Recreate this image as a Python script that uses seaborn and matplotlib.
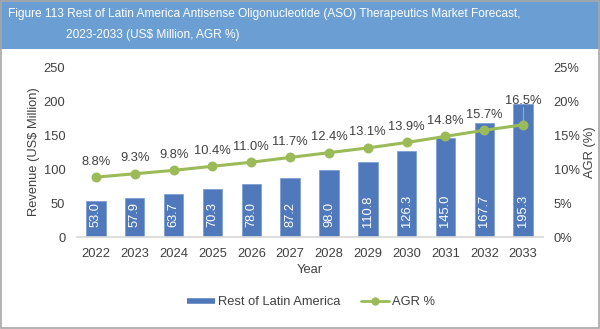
import matplotlib
matplotlib.use("Agg")
import matplotlib.pyplot as plt
import seaborn as sns
import pandas as pd
from matplotlib.patches import Rectangle
from matplotlib.lines import Line2D

years = ["2022", "2023", "2024", "2025", "2026", "2027", "2028", "2029", "2030", "2031", "2032", "2033"]
revenue = [53.0, 57.9, 63.7, 70.3, 78.0, 87.2, 98.0, 110.8, 126.3, 145.0, 167.7, 195.3]
agr = [8.8, 9.3, 9.8, 10.4, 11.0, 11.7, 12.4, 13.1, 13.9, 14.8, 15.7, 16.5]
left_ticks = [0, 50, 100, 150, 200, 250]
right_ticks = [0, 5, 10, 15, 20, 25]

sns.set_theme(style="white")
plt.rcParams['font.family'] = ['Liberation Sans', 'DejaVu Sans']

BAR = "#5079BC"
GREEN = "#9BBB59"
TXT = "#404040"
FS = 9.3

df = pd.DataFrame({"Year": years, "Revenue": revenue, "AGR": agr})

fig = plt.figure(figsize=(6, 3.29), dpi=100)
W, H = 600, 329

# banner
fig.patches.append(Rectangle((0, 1 - 49 / H), 1, 49 / H, transform=fig.transFigure,
                             facecolor="#6B9FD3", edgecolor="none", zorder=0))
# border
fig.patches.append(Rectangle((0.5 / W, 1 / H), 1 - 2 / W, 1 - 2 / H, transform=fig.transFigure,
                             facecolor="none", edgecolor="#A6A6A6", lw=1.2, zorder=1))

fig.text(8 / W, 1 - 14 / H, "Figure 113 Rest of Latin America Antisense Oligonucleotide (ASO) Therapeutics Market Forecast,",
         color="white", fontsize=8.6, va="center", ha="left")
fig.text(66 / W, 1 - 35 / H, "2023-2033 (US$ Million, AGR %)",
         color="white", fontsize=8.6, va="center", ha="left")

ax = fig.add_axes([76.5 / W, (H - 237) / H, (542.6 - 76.5) / W, 170 / H])
sns.barplot(data=df, x="Year", y="Revenue", color=BAR, width=0.5, ax=ax,
            saturation=1, edgecolor="#7FA0D4", linewidth=0.6, zorder=2)
ax.set_ylim(0, 250)
ax.set_yticks(left_ticks)
ax.set_yticklabels([str(t) for t in left_ticks])
ax.set_xlim(-0.5, len(years) - 0.5)
for i, v in enumerate(revenue):
    ax.text(i, 15, f"{v:.1f}", rotation=90, ha="center", va="bottom",
            color="white", fontsize=FS, zorder=5)

ax2 = ax.twinx()
sns.pointplot(data=df, x="Year", y="AGR", color=GREEN, ax=ax2, markers="o",
              markersize=5.5, linewidth=2.2, zorder=4)
ax2.set_ylim(0, 25)
ax2.set_yticks(right_ticks)
ax2.set_yticklabels([f"{t}%" for t in right_ticks])
ax2.set_xlim(-0.5, len(years) - 0.5)
for i, v in enumerate(agr):
    if i == len(agr) - 1:
        ax2.plot([i, i], [v, v + 2.6], color="#A6A6A6", lw=0.8, zorder=3)
        ax2.text(i, v + 3.5, f"{v:.1f}%", ha="center", va="center", color=TXT, fontsize=FS)
    else:
        ax2.text(i, v + 2.3, f"{v:.1f}%", ha="center", va="center", color=TXT, fontsize=FS)

for a in (ax, ax2):
    for s in ("top", "left", "right"):
        a.spines[s].set_visible(False)
    a.spines["bottom"].set_color("#D9D9D9")
    a.tick_params(length=0, colors=TXT, labelsize=FS)
ax2.spines["bottom"].set_visible(False)
ax.tick_params(axis="x", pad=8)
ax.tick_params(axis="y", pad=8)
ax2.tick_params(axis="y", pad=8)

ax.set_xlabel("Year", color=TXT, fontsize=FS, labelpad=3)
ax.set_ylabel("Revenue (US$ Million)", color=TXT, fontsize=FS)
ax.yaxis.set_label_coords((40.5 - 76.5) / 466, 0.5)
ax2.set_ylabel("AGR (%)", color=TXT, fontsize=FS)
ax2.yaxis.set_label_coords((584 - 76.5) / 466, 0.5)

handles = [Line2D([0], [0], color=BAR, lw=4, solid_capstyle="butt"),
           Line2D([0], [0], color=GREEN, lw=2, marker="o", markersize=5)]
fig.legend(handles, ["Rest of Latin America", "AGR %"], loc="center",
           bbox_to_anchor=(311 / W, 1 - 302 / H), ncol=2, frameon=False,
           fontsize=FS, labelcolor=TXT, handlelength=2.2, handletextpad=0.2,
           columnspacing=1.6)

fig.savefig("out.png", dpi=100)
